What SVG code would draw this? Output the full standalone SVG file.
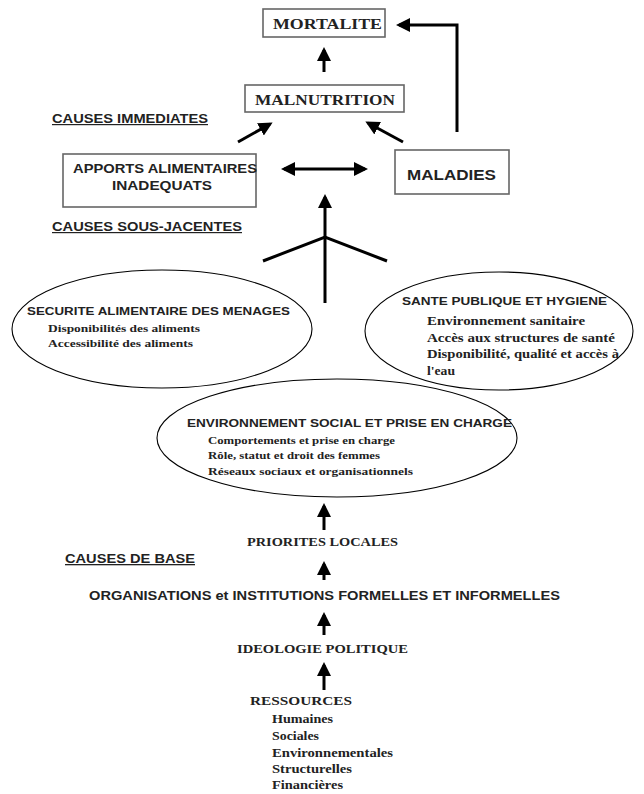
<svg xmlns="http://www.w3.org/2000/svg" width="644" height="794" viewBox="0 0 644 794">
<defs>
<marker id="ahs" markerWidth="14" markerHeight="14" refX="11" refY="7" orient="auto-start-reverse" markerUnits="userSpaceOnUse" viewBox="0 0 14 14">
<path d="M0,0 L14,7 L0,14 Z" fill="#000"/>
</marker>
<marker id="ahb" markerWidth="14" markerHeight="14" refX="11" refY="7" orient="auto" markerUnits="userSpaceOnUse" viewBox="0 0 14 14">
<path d="M0,0 L14,7 L0,14 Z" fill="#000"/>
</marker>
</defs>
<style>
.box{fill:#fff;stroke:#666;stroke-width:1.6}
.ell{fill:#fff;stroke:#000;stroke-width:1.1}
.sans{font-family:"Liberation Sans",Arial,sans-serif;font-weight:bold;fill:#222}
.serif{font-family:"Liberation Serif","Times New Roman",serif;font-weight:bold;fill:#222}
.c{stroke:#000;stroke-width:3;fill:none}
.ul{text-decoration:underline}
</style>
<rect width="644" height="794" fill="#fff"/>

<g id="connectors">
<line class="c" x1="324" y1="72" x2="324" y2="50" marker-end="url(#ahb)"/>
<polyline class="c" points="457,132 457,25 399,25" marker-end="url(#ahb)"/>
<line class="c" x1="238" y1="142" x2="270" y2="124" marker-end="url(#ahb)"/>
<line class="c" x1="403" y1="142" x2="368" y2="123" marker-end="url(#ahb)"/>
<line class="c" x1="284" y1="169" x2="365" y2="169" marker-start="url(#ahs)" marker-end="url(#ahs)"/>
<line class="c" x1="325" y1="303" x2="325" y2="197" marker-end="url(#ahb)"/>
<polyline class="c" points="263,261 325,237 387,261" stroke-width="2.5"/>
<line class="c" x1="324" y1="530" x2="324" y2="506" marker-end="url(#ahb)"/>
<line class="c" x1="324" y1="580" x2="324" y2="564" marker-end="url(#ahb)"/>
<line class="c" x1="324" y1="635" x2="324" y2="615" marker-end="url(#ahb)"/>
<line class="c" x1="324" y1="690" x2="324" y2="665" marker-end="url(#ahb)"/>
</g>

<g id="mortalite">
<rect class="box" x="263" y="9" width="122" height="28"/>
<text class="serif" x="273" y="29" font-size="14" textLength="109" lengthAdjust="spacingAndGlyphs">MORTALITE</text>
</g>
<g id="malnutrition">
<rect class="box" x="245" y="85" width="159" height="27"/>
<text class="serif" x="255" y="105" font-size="14" textLength="140" lengthAdjust="spacingAndGlyphs">MALNUTRITION</text>
</g>
<g id="causes-immediates">
<text class="sans ul" x="52" y="123" font-size="12" textLength="156" lengthAdjust="spacingAndGlyphs">CAUSES IMMEDIATES</text>
</g>
<g id="apports">
<rect class="box" x="63" y="154" width="193" height="53"/>
<text class="sans" x="73" y="173" font-size="12" textLength="184" lengthAdjust="spacingAndGlyphs">APPORTS ALIMENTAIRES</text>
<text class="sans" x="112" y="190" font-size="12" textLength="100" lengthAdjust="spacingAndGlyphs">INADEQUATS</text>
</g>
<g id="maladies">
<rect class="box" x="395" y="150" width="114" height="44"/>
<text class="sans" x="407" y="180" font-size="14" textLength="89" lengthAdjust="spacingAndGlyphs">MALADIES</text>
</g>
<g id="causes-sous-jacentes">
<text class="sans ul" x="52" y="231" font-size="12" textLength="190" lengthAdjust="spacingAndGlyphs">CAUSES SOUS-JACENTES</text>
</g>

<g id="env-social">
<ellipse class="ell" cx="337" cy="438" rx="180" ry="59"/>
<text class="sans" x="187" y="427" font-size="11" textLength="325" lengthAdjust="spacingAndGlyphs">ENVIRONNEMENT SOCIAL ET PRISE EN CHARGE</text>
<text class="serif" x="208" y="444" font-size="11" textLength="187" lengthAdjust="spacingAndGlyphs">Comportements et prise en charge</text>
<text class="serif" x="208" y="459" font-size="11" textLength="172" lengthAdjust="spacingAndGlyphs">Rôle, statut et droit des femmes</text>
<text class="serif" x="208" y="475" font-size="11" textLength="205" lengthAdjust="spacingAndGlyphs">Réseaux sociaux et organisationnels</text>
</g>
<g id="securite">
<ellipse class="ell" cx="162" cy="329" rx="150" ry="59"/>
<text class="sans" x="27" y="315" font-size="11" textLength="263" lengthAdjust="spacingAndGlyphs">SECURITE ALIMENTAIRE DES MENAGES</text>
<text class="serif" x="48" y="332" font-size="11" textLength="152" lengthAdjust="spacingAndGlyphs">Disponibilités des aliments</text>
<text class="serif" x="48" y="347" font-size="11" textLength="145" lengthAdjust="spacingAndGlyphs">Accessibilité des aliments</text>
</g>
<g id="sante">
<ellipse class="ell" cx="499" cy="331" rx="134" ry="59"/>
<text class="sans" x="402" y="305" font-size="11" textLength="205" lengthAdjust="spacingAndGlyphs">SANTE PUBLIQUE ET HYGIENE</text>
<text class="serif" x="427" y="325" font-size="12" textLength="158" lengthAdjust="spacingAndGlyphs">Environnement sanitaire</text>
<text class="serif" x="427" y="342" font-size="12" textLength="188" lengthAdjust="spacingAndGlyphs">Accès aux structures de santé</text>
<text class="serif" x="427" y="358" font-size="12" textLength="192" lengthAdjust="spacingAndGlyphs">Disponibilité, qualité et accès à</text>
<text class="serif" x="427" y="375" font-size="12" textLength="28" lengthAdjust="spacingAndGlyphs">l'eau</text>
</g>

<g id="priorites">
<text class="serif" x="247" y="546" font-size="12" textLength="151" lengthAdjust="spacingAndGlyphs">PRIORITES LOCALES</text>
</g>
<g id="causes-de-base">
<text class="sans ul" x="65" y="563" font-size="13" textLength="130" lengthAdjust="spacingAndGlyphs">CAUSES DE BASE</text>
</g>
<g id="organisations">
<text class="sans" x="89" y="600" font-size="13" textLength="471" lengthAdjust="spacingAndGlyphs">ORGANISATIONS et INSTITUTIONS FORMELLES ET INFORMELLES</text>
</g>
<g id="ideologie">
<text class="serif" x="237" y="653" font-size="13" textLength="171" lengthAdjust="spacingAndGlyphs">IDEOLOGIE POLITIQUE</text>
</g>
<g id="ressources">
<text class="serif" x="250" y="705" font-size="13" textLength="102" lengthAdjust="spacingAndGlyphs">RESSOURCES</text>
<text class="serif" x="272" y="723" font-size="13" textLength="61" lengthAdjust="spacingAndGlyphs">Humaines</text>
<text class="serif" x="272" y="740" font-size="13" textLength="47" lengthAdjust="spacingAndGlyphs">Sociales</text>
<text class="serif" x="272" y="757" font-size="13" textLength="121" lengthAdjust="spacingAndGlyphs">Environnementales</text>
<text class="serif" x="272" y="773" font-size="13" textLength="80" lengthAdjust="spacingAndGlyphs">Structurelles</text>
<text class="serif" x="272" y="789" font-size="13" textLength="71" lengthAdjust="spacingAndGlyphs">Financières</text>
</g>
</svg>
